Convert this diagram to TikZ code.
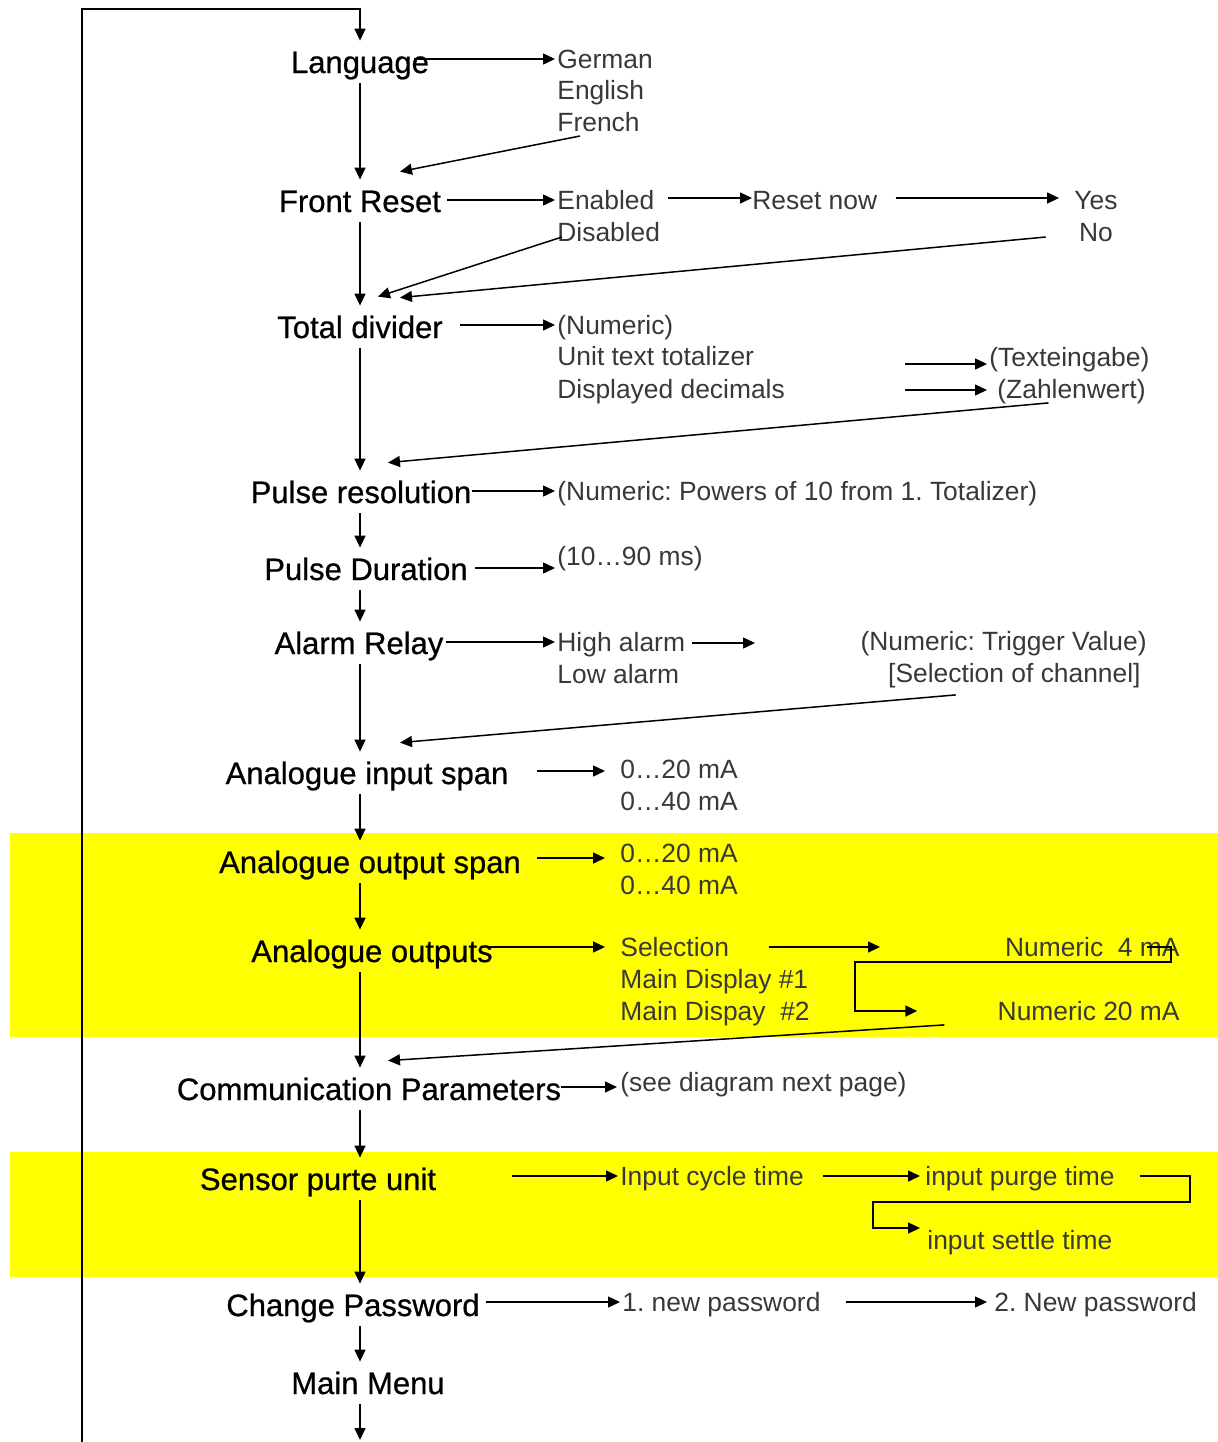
\documentclass[tikz,border=0pt]{standalone}
\usepackage{fontspec}
\setmainfont{Liberation Sans}
\newfontfamily\menufam[FakeBold=0.7]{Liberation Sans}
\usetikzlibrary{arrows.meta}
\definecolor{hilite}{RGB}{255,255,0}
\definecolor{opttext}{gray}{0.22}
\newcommand\menufont{\menufam\fontsize{15.5}{18}\selectfont}
\newcommand\optfont{\fontsize{13.2}{16}\selectfont}
\frenchspacing

\begin{document}
\begin{tikzpicture}[
  x=0.5pt, y=-0.5pt,
  menu/.style={font=\menufont, inner sep=5pt, text height=11pt, text depth=0pt},
  opt/.style={font=\optfont, text=opttext, inner sep=1pt, text height=9.5pt,
              text depth=0pt, anchor=west},
  optr/.style={opt, anchor=east},
  arrow/.style={-{Triangle[length=6pt,width=5.5pt]}, line width=0.75pt}
]
\useasboundingbox (0,0) rectangle (1218,1442);
\fill[hilite] (10,833) rectangle (1218,1037);
\fill[hilite] (10,1152) rectangle (1218,1277);

\coordinate (spine) at (360,0);
\coordinate (loopfoot) at (82,1442);
\coordinate (looptop) at (82,9);
\coordinate (menuexit) at (360,1440);

\node[menu] (language) at (360,62) {Language};
\node[menu] (front) at (360,201) {Front Reset};
\node[menu] (total) at (360,327) {Total divider};
\node[menu] (pulseres) at (361,492) {Pulse resolution};
\node[menu] (pulsedur) at (366,569) {Pulse Duration};
\node[menu] (alarm) at (359,643) {Alarm Relay};
\node[menu] (ain) at (367,773) {Analogue input span};
\node[menu] (aoutspan) at (370,862) {Analogue output span};
\node[menu] (aout) at (372,951) {Analogue outputs};
\node[menu] (comm) at (369,1089) {Communication Parameters};
\node[menu] (sensor) at (318,1179) {Sensor purte unit};
\node[menu] (passwd) at (353,1305) {Change Password};
\node[menu] (mainmenu) at (368,1383) {Main Menu};

\node[opt] (german) at (555,59) {German};
\node[opt] (english) at (555,90) {English};
\node[opt] (french) at (555,122) {French};
\node[opt] (enabled) at (555,200) {Enabled};
\node[opt] (disabled) at (555,232) {Disabled};
\node[opt] (resetnow) at (750,200) {Reset now};
\node[opt, anchor=center] (yes) at (1096,200) {Yes};
\node[opt, anchor=center] (no) at (1096,232) {No};
\node[opt] (numeric) at (555,325) {(Numeric)};
\node[opt] (unittext) at (555,356) {Unit text totalizer};
\node[opt] (decimals) at (555,389) {Displayed decimals};
\node[opt] (texteingabe) at (987,357) {(Texteingabe)};
\node[opt] (zahlenwert) at (995,389) {(Zahlenwert)};
\node[opt] (powers) at (555,491) {(Numeric: Powers of 10 from 1. Totalizer)};
\node[opt] (msrange) at (555,556) {(10…90 ms)};
\node[opt] (high) at (555,642) {High alarm};
\node[opt] (low) at (555,674) {Low alarm};
\node[optr] (trigger) at (1149,641) {(Numeric: Trigger Value)};
\node[optr] (channel) at (1143,673) {[Selection of channel]};
\node[opt] (ain20) at (618,769) {0…20 mA};
\node[opt] (ain40) at (618,801) {0…40 mA};
\node[opt] (aout20) at (618,853) {0…20 mA};
\node[opt] (aout40) at (618,885) {0…40 mA};
\node[opt] (selection) at (618,947) {Selection};
\node[opt] (disp1) at (618,979) {Main Display \#1};
\node[opt] (disp2) at (618,1011) {Main Dispay~ \#2};
\node[optr] (num4) at (1182,947) {Numeric~ 4 mA};
\node[optr] (num20) at (1182,1011) {Numeric 20 mA};
\node[opt] (nextpage) at (618,1082) {(see diagram next page)};
\node[opt] (cycle) at (618,1176) {Input cycle time};
\node[opt] (purge) at (923,1176) {input purge time};
\node[opt] (settle) at (925,1240) {input settle time};
\node[opt] (newpw1) at (620,1302) {1. new password};
\node[opt] (newpw2) at (992,1302) {2. New password};

\coordinate (tx) at (905,364);
\coordinate (zw) at (905,390);
\coordinate (hightip) at (755,643);
\coordinate (seltip) at (880,947);

\draw[arrow] (loopfoot) -- (looptop) -| (language.north -| spine);
\foreach \a/\b in {language/front, front/total, total/pulseres, pulseres/pulsedur,
  pulsedur/alarm, alarm/ain, ain/aoutspan, aoutspan/aout, aout/comm,
  comm/sensor, sensor/passwd, passwd/mainmenu}
  \draw[arrow] (\a.south -| spine) -- (\b.north -| spine);
\draw[arrow] (mainmenu.south -| spine) -- (menuexit);

\draw[arrow] ([shift={(-25,-3)}]language.east) -- (german.west);
\draw[arrow] ([shift={(25,14)}]french.west) -- ([shift={(40,-8)}]front.north);
\draw[arrow] ([shift={(-4,-1)}]front.east) -- (enabled.west);
\draw[arrow] ([shift={(11,-2)}]enabled.east) -- ([shift={(2,-2)}]resetnow.west);
\draw[arrow] ([shift={(16,-2)}]resetnow.east) -- ([shift={(-13,-2)}]yes.west);
\draw[arrow] ([shift={(7,5)}]disabled.west) -- ([shift={(18,-9)}]total.north);
\draw[arrow] ([shift={(-31,5)}]no.west) -- ([shift={(40,-8)}]total.north);
\draw[arrow] ([shift={(7,-2)}]total.east) -- (numeric.west);
\draw[arrow] (tx) -- (tx -| texteingabe.west);
\draw[arrow] (zw) -- (zw -| texteingabe.west);
\draw[arrow] ([shift={(-23,2)}]zahlenwert.south) -- ([shift={(27,-8)}]pulseres.north);
\draw[arrow] ([shift={(-10,-1)}]pulseres.east) -- (powers.west);
\draw[arrow] ([shift={(-3,-1)}]pulsedur.east) -- ([shift={(0,12)}]msrange.west);
\draw[arrow] ([shift={(-8,-1)}]alarm.east) -- (high.west);
\draw[arrow] ([shift={(5,1)}]high.east) -- (hightip);
\draw[arrow] ([shift={(70,10)}]channel.south west) -- ([shift={(33,-9)}]ain.north);
\draw[arrow] ([shift={(18,-2)}]ain.east) -- ([shift={(-13,2)}]ain20.west);
\draw[arrow] ([shift={(6,-4)}]aoutspan.east) -- ([shift={(-13,5)}]aout20.west);
\draw[arrow] ([shift={(-15,-4)}]aout.east) -- ([shift={(-13,0)}]selection.west);
\draw[arrow] ([shift={(38,0)}]selection.east) -- (seltip);
\draw[arrow] ([shift={(-35,0)}]num4.east) -- ++(24,0) -- ++(0,15) -- ++(-316,0)
  |- ([shift={(-78,0)}]num20.west);
\draw[arrow] ([shift={(-51,2)}]num20.south west) -- ([shift={(19,-7)}]comm.north);
\draw[arrow] ([shift={(-11,-2)}]comm.east) -- ([shift={(-1,5)}]nextpage.west);
\draw[arrow] ([shift={(66,-3)}]sensor.east) -- (cycle.west);
\draw[arrow] ([shift={(17,0)}]cycle.east) -- ([shift={(-3,0)}]purge.west);
\draw[arrow] ([shift={(23,0)}]purge.east) -- ++(50,0) -- ++(0,26) -- ++(-317,0)
  |- ([shift={(-5,-12)}]settle.west);
\draw[arrow] ([shift={(-4,-3)}]passwd.east) -- (newpw1.west);
\draw[arrow] ([shift={(23,0)}]newpw1.east) -- ([shift={(-5,0)}]newpw2.west);
\end{tikzpicture}
\end{document}
